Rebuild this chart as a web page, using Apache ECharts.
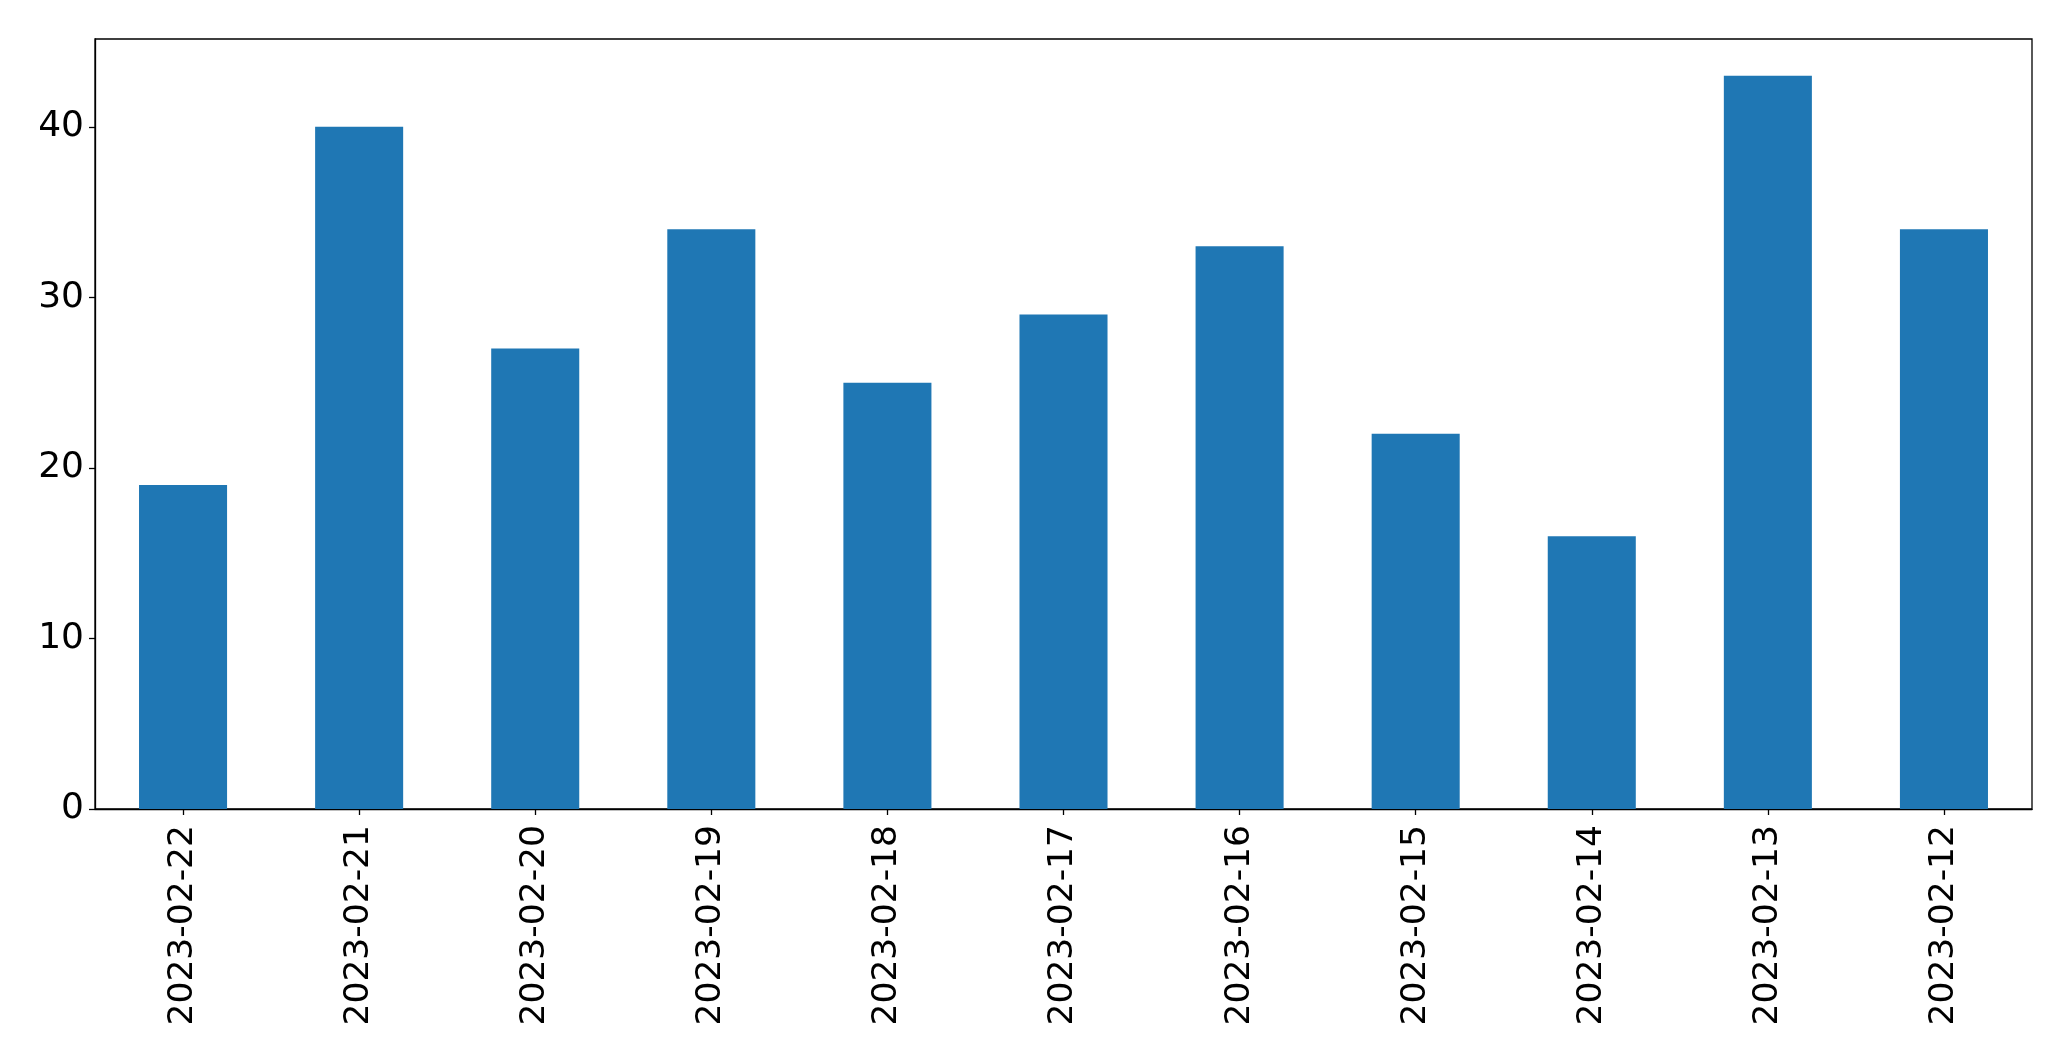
<!DOCTYPE html>
<html>
<head>
<meta charset="utf-8">
<script src="https://cdn.jsdelivr.net/npm/echarts@6/dist/echarts.min.js"></script>
<style>
html,body{margin:0;padding:0;background:#fff;}
#chart{width:2071px;height:1061px;}
</style>
</head>
<body>
<div id="chart"></div>
<script>
const categories = ["2023-02-22","2023-02-21","2023-02-20","2023-02-19","2023-02-18","2023-02-17","2023-02-16","2023-02-15","2023-02-14","2023-02-13","2023-02-12"];
const values = [19, 40, 27, 34, 25, 29, 33, 22, 16, 43, 34];
const yTicks = [0, 10, 20, 30, 40];

const chart = echarts.init(document.getElementById('chart'), null, {renderer: 'canvas'});
const font = 'DejaVu Sans';
chart.setOption({
  animation: false,
  backgroundColor: '#ffffff',
  grid: {left: 95, right: 39, top: 39, bottom: 252, show: true, borderColor: '#000', borderWidth: 1.3, backgroundColor: 'transparent'},
  xAxis: {
    type: 'category',
    data: categories,
    axisLine: {show: true, lineStyle: {color: '#000', width: 1.3}},
    axisTick: {show: true, alignWithLabel: true, length: 6, lineStyle: {color: '#000', width: 1.3}},
    axisLabel: {rotate: 90, color: '#000', fontFamily: font, fontSize: 34.5, margin: 16, interval: 0}
  },
  yAxis: {
    type: 'value',
    min: 0,
    max: 45.15,
    interval: 10,
    splitLine: {show: false},
    axisLine: {show: true, lineStyle: {color: '#000', width: 1.3}},
    axisTick: {show: true, length: 6, lineStyle: {color: '#000', width: 1.3}, customValues: yTicks},
    axisLabel: {color: '#000', fontFamily: font, fontSize: 36, margin: 11, customValues: yTicks}
  },
  series: [{
    type: 'bar',
    data: values,
    barWidth: '50%',
    itemStyle: {color: '#1f77b4'}
  }]
});
</script>
</body>
</html>
